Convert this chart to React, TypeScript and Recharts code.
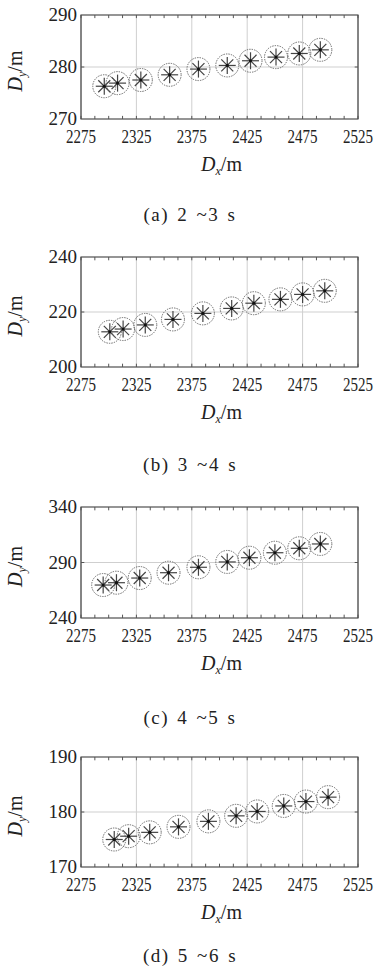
import React from 'react';
import { ScatterChart, Scatter, XAxis, YAxis, CartesianGrid, ReferenceArea, ReferenceLine } from 'recharts';

// x axis is shared by all four panels
const xTicks = [2275, 2325, 2375, 2425, 2475, 2525];
const xMinor = [2287.5, 2300, 2312.5, 2337.5, 2350, 2362.5, 2387.5, 2400, 2412.5, 2437.5, 2450, 2462.5, 2487.5, 2500, 2512.5];

// (a) 2~3 s
const dxA = [2296, 2308, 2329, 2355, 2381, 2407, 2428, 2451, 2472, 2491];
const dyA = [276.3, 276.9, 277.5, 278.5, 279.6, 280.3, 281.2, 281.9, 282.6, 283.3];
const yTicksA = [270, 280, 290];

// (b) 3~4 s
const dxB = [2301, 2313, 2333, 2358, 2385, 2411, 2431, 2455, 2475, 2495];
const dyB = [212.8, 213.8, 215.3, 217.3, 219.5, 221.3, 223.2, 224.6, 226.4, 227.7];
const yTicksB = [200, 220, 240];

// (c) 4~5 s
const dxC = [2295, 2307, 2328, 2354, 2381, 2407, 2427, 2450, 2472, 2491];
const dyC = [269.7, 271.8, 276, 280.8, 285.7, 290.5, 294.3, 298.8, 302.8, 306.7];
const yTicksC = [240, 290, 340];

// (d) 5~6 s
const dxD = [2305, 2318, 2337, 2363, 2390, 2415, 2434, 2458, 2478, 2498];
const dyD = [175.0, 175.6, 176.3, 177.3, 178.3, 179.3, 180.1, 181.1, 181.9, 182.7];
const yTicksD = [170, 180, 190];

const captions = ['(a) 2 ~3 s', '(b) 3 ~4 s', '(c) 4 ~5 s', '(d) 5 ~6 s'];

const FONT = 'Liberation Serif, DejaVu Serif, serif';

const toPoints = (xs: number[], ys: number[]) => xs.map((x, i) => ({ x, y: ys[i] }));

// circle (dotted) with an asterisk inside
const Marker = (props: any) => {
  const { cx, cy } = props;
  if (cx == null || cy == null) return null;
  const a = 8.5;
  const d = 6;
  return (
    <g>
      <circle cx={cx} cy={cy} r={11.5} fill="none" stroke="#666" strokeWidth={1} strokeDasharray="1.4 1.1" />
      <line x1={cx - a} y1={cy} x2={cx + a} y2={cy} stroke="#444" strokeWidth={1.2} />
      <line x1={cx} y1={cy - a} x2={cx} y2={cy + a} stroke="#444" strokeWidth={1.2} />
      <line x1={cx - d} y1={cy - d} x2={cx + d} y2={cy + d} stroke="#444" strokeWidth={1.2} />
      <line x1={cx - d} y1={cy + d} x2={cx + d} y2={cy - d} stroke="#444" strokeWidth={1.2} />
      <circle cx={cx} cy={cy} r={1.6} fill="#111" />
    </g>
  );
};

const XTick = ({ x, y, payload }: any) => (
  <text x={x} y={y + 24} textAnchor="middle" style={{ fontFamily: FONT, fontSize: 19 }} fill="#222"
    textLength={30} lengthAdjust="spacingAndGlyphs">
    {payload.value}
  </text>
);

const YTick = ({ x, y, payload }: any) => (
  <text x={x - 4} y={y + 6} textAnchor="end" style={{ fontFamily: FONT, fontSize: 19 }} fill="#222">
    {payload.value}
  </text>
);

const XLabel = ({ viewBox }: any) => {
  const cx = viewBox.x + viewBox.width / 2 + 2;
  const by = viewBox.y + 52;
  return (
    <text x={cx} y={by} textAnchor="middle" style={{ fontFamily: FONT, fontSize: 20 }} fill="#222">
      <tspan fontStyle="italic">D</tspan>
      <tspan fontStyle="italic" fontSize={12} dy={4}>x</tspan>
      <tspan dy={-4}>/m</tspan>
    </text>
  );
};

const YLabel = ({ viewBox }: any) => {
  const bx = viewBox.x + 22;
  const cy = viewBox.y + viewBox.height / 2 + 4;
  return (
    <text x={bx} y={cy} textAnchor="middle" style={{ fontFamily: FONT, fontSize: 20 }} fill="#222"
      transform={`rotate(-90, ${bx}, ${cy})`}>
      <tspan fontStyle="italic">D</tspan>
      <tspan fontStyle="italic" fontSize={12} dy={4}>y</tspan>
      <tspan dy={-4}>/m</tspan>
    </text>
  );
};

interface PanelProps {
  xs: number[];
  ys: number[];
  yTicks: number[];
  plotTop: number;
  plotHeight: number;
}

const Panel: React.FC<PanelProps> = ({ xs, ys, yTicks, plotTop, plotHeight }) => {
  const data = toPoints(xs, ys);
  const yMin = yTicks[0];
  const yMax = yTicks[yTicks.length - 1];
  const yMid = yTicks[1];
  const tl = (yMax - yMin) * 0.03; // minor tick length in data units
  const xl = 250 * 0.012;
  return (
    <div style={{ position: 'absolute', left: 0, top: plotTop - 15 }}>
      <ScatterChart width={380} height={15 + plotHeight + 60} margin={{ top: 15, right: 22, left: 0, bottom: 0 }}>
        <CartesianGrid stroke="#cfcfcf" strokeWidth={1} />
        <XAxis type="number" dataKey="x" domain={[2275, 2525]} ticks={xTicks} allowDataOverflow
          height={60} tickSize={0} tickMargin={0} tick={<XTick />} axisLine={false} label={<XLabel />} />
        <YAxis type="number" dataKey="y" domain={[yMin, yMax]} ticks={yTicks} allowDataOverflow
          width={81} tickSize={0} tickMargin={0} tick={<YTick />} axisLine={false} label={<YLabel />} />
        {xMinor.concat(xTicks).map((v) => (
          <ReferenceLine key={`b${v}`} segment={[{ x: v, y: yMin }, { x: v, y: yMin + tl }]} stroke="#555" />
        ))}
        {xMinor.concat(xTicks).map((v) => (
          <ReferenceLine key={`t${v}`} segment={[{ x: v, y: yMax }, { x: v, y: yMax - tl }]} stroke="#555" />
        ))}
        <ReferenceLine segment={[{ x: 2275, y: yMid }, { x: 2275 + xl, y: yMid }]} stroke="#555" />
        <ReferenceLine segment={[{ x: 2525, y: yMid }, { x: 2525 - xl, y: yMid }]} stroke="#555" />
        <ReferenceArea x1={2275} x2={2525} y1={yMin} y2={yMax} fill="none" fillOpacity={0} stroke="#444" strokeWidth={1.2} />
        <Scatter data={data} shape={<Marker />} isAnimationActive={false} />
      </ScatterChart>
    </div>
  );
};

const Caption = ({ text, center }: { text: string; center: number }) => (
  <div style={{
    position: 'absolute', left: 0, width: 380, top: center - 11, height: 22, lineHeight: '22px',
    textAlign: 'center', fontFamily: FONT, fontSize: 19, color: '#222', whiteSpace: 'pre', wordSpacing: 2, letterSpacing: 1.5,
  }}>
    {text}
  </div>
);

export default function App() {
  return (
    <div style={{ position: 'absolute', left: 0, top: 0, width: 380, height: 974, background: '#fff' }}>
      <Panel xs={dxA} ys={dyA} yTicks={yTicksA} plotTop={15} plotHeight={104} />
      <Caption text={captions[0]} center={215} />
      <Panel xs={dxB} ys={dyB} yTicks={yTicksB} plotTop={257} plotHeight={110} />
      <Caption text={captions[1]} center={465} />
      <Panel xs={dxC} ys={dyC} yTicks={yTicksC} plotTop={507} plotHeight={111} />
      <Caption text={captions[2]} center={718} />
      <Panel xs={dxD} ys={dyD} yTicks={yTicksD} plotTop={757} plotHeight={110} />
      <Caption text={captions[3]} center={956} />
    </div>
  );
}
